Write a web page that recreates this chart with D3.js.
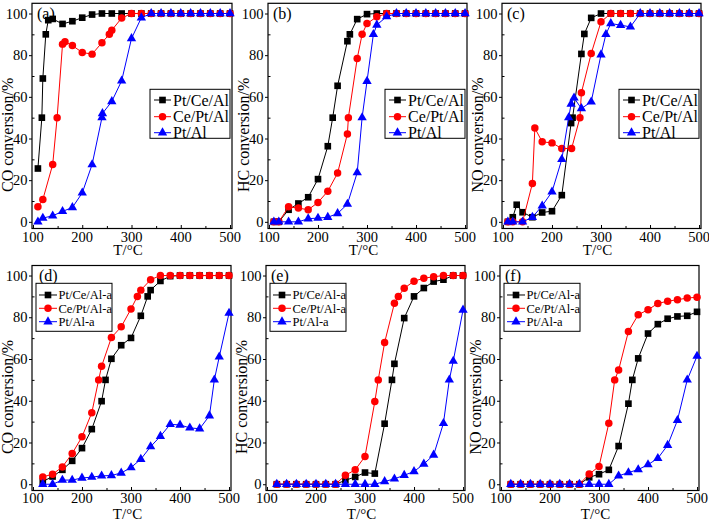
<!DOCTYPE html>
<html>
<head>
<meta charset="utf-8">
<script src="https://cdn.jsdelivr.net/npm/d3@7"></script>
<style>
body { margin: 0; background: #fff; }
svg { display: block; }
svg text { font-family: "Liberation Serif", "Times New Roman", serif; fill: #000; }
</style>
</head>
<body>
<svg id="chart" width="709" height="520"></svg>
<script>
// series names
var freshNames = ["Pt/Ce/Al", "Ce/Pt/Al", "Pt/Al"];
var agedNames = ["Pt/Ce/Al-a", "Ce/Pt/Al-a", "Pt/Al-a"];

var xTicks = [100, 200, 300, 400, 500];
var xMinor = [150, 250, 350, 450];
var yTicks = [0, 20, 40, 60, 80, 100];
var yMinor = [10, 30, 50, 70, 90];

// (a) CO, fresh  [T, conversion]
var coFreshPtCeAl = [[110,25.6],[118,50],[120,68.8],[126,90],[131,96.8],[140,97.4],[160,95],[180,96.3],[200,98],[220,99.5],[240,100],[260,100],[280,100],[300,100],[320,100],[340,100],[360,100],[380,100],[400,100],[420,100],[440,100],[460,100],[480,100],[500,100]];
var coFreshCePtAl = [[110,7.2],[120,10.7],[140,27.5],[149,50],[160,85.3],[165,86.4],[180,84.6],[200,81.3],[220,80.5],[240,86],[255,90],[260,92],[280,97.8],[300,100],[320,100],[340,100],[360,100],[380,100],[400,100],[420,100],[440,100],[460,100],[480,100],[500,100]];
var coFreshPtAl = [[110,0],[120,1.8],[140,2.9],[160,5],[180,6.9],[200,13.9],[220,27.5],[240,50],[241,52],[260,57.8],[280,67.7],[300,88],[320,98],[340,100],[360,100],[380,100],[400,100],[420,100],[440,100],[460,100],[480,100],[500,100]];

// (b) HC, fresh
var hcFreshPtCeAl = [[110,0],[120,0],[140,5.8],[160,8.8],[180,11.8],[200,20.5],[220,36.3],[230,50],[240,65.3],[260,86.7],[265,90],[280,97.3],[300,99.7],[320,100],[340,100],[360,100],[380,100],[400,100],[420,100],[440,100],[460,100],[480,100],[500,100]];
var hcFreshCePtAl = [[110,0],[120,0],[140,7.2],[160,6.6],[180,5.8],[200,9.3],[220,14.7],[240,23.4],[260,42.2],[262,50],[280,78.4],[290,90],[300,95.2],[320,98.4],[340,100],[360,100],[380,100],[400,100],[420,100],[440,100],[460,100],[480,100],[500,100]];
var hcFreshPtAl = [[110,0],[120,0],[140,0],[160,0],[180,1.5],[200,1.8],[220,2.2],[240,4],[260,8.5],[280,23.6],[290,50],[300,67.5],[313,90],[320,94.5],[340,98.5],[360,100],[380,100],[400,100],[420,100],[440,100],[460,100],[480,100],[500,100]];

// (c) NO, fresh
var noFreshPtCeAl = [[110,0],[120,2.2],[128,8.2],[140,4.6],[160,2.2],[180,4.5],[200,5.1],[220,12.8],[239,47.4],[242,50],[260,80.6],[266,90.2],[280,97.9],[300,100],[320,100],[340,100],[360,100],[380,100],[400,100],[420,100],[440,100],[460,100],[480,100],[500,100]];
var noFreshCePtAl = [[110,0],[120,0],[140,0],[160,18.4],[165,45],[180,38.4],[200,37.9],[220,35.2],[240,35.2],[257,50],[260,62],[280,80.8],[300,96],[320,100],[340,100],[360,100],[380,100],[400,100],[420,100],[440,100],[460,100],[480,100],[500,100]];
var noFreshPtAl = [[110,0],[120,0],[140,0],[160,2.2],[180,7.7],[200,14.4],[220,30],[234,50],[239,56.6],[245,59.5],[260,54.4],[280,57.6],[300,80.2],[310,90],[320,95.2],[340,94.4],[360,93.6],[380,100],[400,100],[420,100],[440,100],[460,100],[480,100],[500,100]];

// (d) CO, aged
var coAgedPtCeAl = [[120,1.3],[140,3.7],[160,6.9],[180,11.2],[200,17.3],[220,26.4],[240,39.8],[248,50],[260,60.1],[280,66.6],[300,70.1],[320,80.7],[334,90],[340,93],[360,97.4],[380,99.7],[400,100],[420,100],[440,100],[460,100],[480,100],[500,100]];
var coAgedCePtAl = [[120,3.5],[140,4.8],[160,8.3],[180,14.7],[200,22.7],[220,34.3],[234,50],[240,56.5],[260,70.3],[280,75.4],[300,84],[313,90],[320,93],[340,98],[360,100],[380,100],[400,100],[420,100],[440,100],[460,100],[480,100],[500,100]];
var coAgedPtAl = [[120,0],[140,0],[160,2],[180,2],[200,3],[220,3.4],[240,4],[260,4.2],[280,5.4],[300,8],[320,12],[340,18],[360,23],[380,28.7],[400,28.4],[420,27],[440,26.6],[460,32.8],[470,50],[480,61],[500,82]];

// (e) HC, aged
var hcAgedPtCeAl = [[120,0],[140,0],[160,0],[180,0],[200,0],[220,0],[240,0],[260,1.9],[280,3.5],[300,5.6],[320,5.1],[340,29],[355,50],[360,57.7],[380,79.6],[400,90],[420,94],[440,97.1],[460,98],[480,100],[500,100]];
var hcAgedCePtAl = [[120,0],[140,0],[160,0],[180,0],[200,0],[220,0],[240,0],[260,4.3],[280,6.9],[300,13.3],[320,39.6],[327,50],[340,67.9],[360,86.7],[368,90],[380,93.9],[400,97.3],[420,98.7],[440,99.4],[460,100],[480,100],[500,100]];
var hcAgedPtAl = [[120,0],[140,0],[160,0],[180,0],[200,0],[220,0],[240,0],[260,0],[280,0],[300,0],[320,0],[340,1.3],[360,2.6],[380,4.3],[400,6.1],[420,9.7],[440,14],[460,29.2],[472,50],[480,59],[500,83.5]];

// (f) NO, aged
var noAgedPtCeAl = [[120,0],[140,0],[160,0],[180,0],[200,0],[220,0],[240,0],[260,0],[280,3.3],[300,4.8],[320,6.9],[340,18.3],[360,38.6],[368,50],[380,60.3],[400,72.2],[420,76.7],[440,79.3],[460,80.4],[480,80.7],[500,82.6]];
var noAgedCePtAl = [[120,0],[140,0],[160,0],[180,0],[200,0],[220,0],[240,0],[260,0],[280,4.9],[300,8.5],[320,29.2],[332,50],[340,54.7],[360,73.2],[380,81.2],[400,83.6],[420,86.6],[440,87.7],[460,88.4],[480,89.2],[500,89.6]];
var noAgedPtAl = [[120,0],[140,0],[160,0],[180,0],[200,0],[220,0],[240,0],[260,0],[280,0],[300,0],[320,0],[340,4],[360,5.6],[380,7],[400,9.4],[420,12.4],[440,18.7],[460,30.6],[480,50],[500,61.4]];

var colors = ["#000000", "#ff0000", "#0000ff"];
var shapes = [d3.symbolSquare, d3.symbolCircle, d3.symbolTriangle];
var shapeSize = [44, 44, 38];

var topRow = { top: 3.3, bottom: 228.5, yDomain: [-3.2, 104.9], labelY: 241.5, xTitleY: 255, legend: "right" };
var bottomRow = { top: 265.5, bottom: 490.5, yDomain: [-3, 104.8], labelY: 503, xTitleY: 518.5, legend: "left" };

var panels = [
  { tag: "(a)", yTitle: "CO conversion/%", left: 32, width: 200, row: topRow, names: freshNames, series: [coFreshPtCeAl, coFreshCePtAl, coFreshPtAl] },
  { tag: "(b)", yTitle: "HC conversion/%", left: 268, width: 199, row: topRow, names: freshNames, series: [hcFreshPtCeAl, hcFreshCePtAl, hcFreshPtAl] },
  { tag: "(c)", yTitle: "NO conversion/%", left: 502, width: 199, row: topRow, names: freshNames, series: [noFreshPtCeAl, noFreshCePtAl, noFreshPtAl] },
  { tag: "(d)", yTitle: "CO conversion/%", left: 32, width: 199, row: bottomRow, names: agedNames, series: [coAgedPtCeAl, coAgedCePtAl, coAgedPtAl] },
  { tag: "(e)", yTitle: "HC conversion/%", left: 266, width: 199, row: bottomRow, names: agedNames, series: [hcAgedPtCeAl, hcAgedCePtAl, hcAgedPtAl] },
  { tag: "(f)", yTitle: "NO conversion/%", left: 500, width: 199, row: bottomRow, names: agedNames, series: [noAgedPtCeAl, noAgedCePtAl, noAgedPtAl] }
];

var svg = d3.select("#chart");

var drawPanel = function (p) {
  var top = p.row.top, bottom = p.row.bottom;
  var right = p.left + p.width;
  var xScale = d3.scaleLinear().domain([98, 504]).range([p.left, right]);
  var yScale = d3.scaleLinear().domain(p.row.yDomain).range([bottom, top]);
  var g = svg.append("g");

  // x ticks point inward, y major ticks outward
  var xAxis = g.append("g").attr("transform", "translate(0," + bottom + ")")
    .call(d3.axisBottom(xScale).tickValues(xTicks).tickSizeInner(-3.5).tickSizeOuter(0).tickFormat(""));
  var xAxisMinor = g.append("g").attr("transform", "translate(0," + bottom + ")")
    .call(d3.axisBottom(xScale).tickValues(xMinor).tickSizeInner(-2.5).tickSizeOuter(0).tickFormat(""));
  var yAxis = g.append("g").attr("transform", "translate(" + p.left + ",0)")
    .call(d3.axisLeft(yScale).tickValues(yTicks).tickSizeInner(3).tickSizeOuter(0).tickPadding(1.5));
  var yAxisMinor = g.append("g").attr("transform", "translate(" + p.left + ",0)")
    .call(d3.axisLeft(yScale).tickValues(yMinor).tickSizeInner(-2.5).tickSizeOuter(0).tickFormat(""));
  [xAxis, xAxisMinor, yAxis, yAxisMinor].forEach(function (a) {
    a.attr("font-family", null);
    a.select(".domain").remove();
    a.selectAll("line").attr("stroke", "#000").attr("stroke-width", 1);
    a.selectAll("text").attr("font-size", 14.5);
  });

  // x tick labels
  g.selectAll(".xlab")
    .data(xTicks)
    .enter()
    .append("text")
    .attr("class", "xlab")
    .attr("x", function (d) { return xScale(d); })
    .attr("y", p.row.labelY)
    .attr("text-anchor", "middle")
    .attr("font-size", 14.5)
    .text(function (d) { return d; });

  // frame
  g.append("rect")
    .attr("x", p.left).attr("y", top)
    .attr("width", p.width).attr("height", bottom - top)
    .attr("fill", "none").attr("stroke", "#000").attr("stroke-width", 1.2);

  // titles
  g.append("text")
    .attr("x", (p.left + right) / 2 - 4).attr("y", p.row.xTitleY)
    .attr("text-anchor", "middle").attr("font-size", 15)
    .text("T/\u00b0C");
  g.append("text")
    .attr("transform", "translate(" + (p.left - 19) + "," + ((top + bottom) / 2 + 19) + ") rotate(-90)")
    .attr("text-anchor", "middle").attr("font-size", 16)
    .text(p.yTitle);
  g.append("text")
    .attr("x", p.left + (p.tag === "(d)" ? 7 : 5)).attr("y", top + 15.5)
    .attr("font-size", 16)
    .text(p.tag);

  // series
  var line = d3.line()
    .x(function (d) { return xScale(d[0]); })
    .y(function (d) { return yScale(d[1]); });

  p.series.forEach(function (data, i) {
    g.append("path")
      .datum(data)
      .attr("d", line)
      .attr("fill", "none")
      .attr("stroke", colors[i])
      .attr("stroke-width", 1);
    g.selectAll(".pt" + i)
      .data(data)
      .enter()
      .append("path")
      .attr("class", "pt" + i)
      .attr("transform", function (d) {
        return "translate(" + xScale(d[0]) + "," + yScale(d[1]) + ")";
      })
      .attr("d", d3.symbol().type(shapes[i]).size(shapeSize[i]))
      .attr("fill", colors[i]);
  });

  // legend
  var lg;
  if (p.row.legend === "right") {
    lg = { x: right - 82, y: 89.3, w: 80, h: 49, rows: [10.7, 27.4, 43.4], x1: 4, x2: 21, tx: 23, fs: 16 };
  } else {
    lg = { x: p.left + 4, y: 283.3, w: 76, h: 48, rows: [11.7, 25, 38.4], x1: 3, x2: 21, tx: 22.5, fs: 12.5 };
  }
  var leg = g.append("g").attr("transform", "translate(" + lg.x + "," + lg.y + ")");
  leg.append("rect")
    .attr("width", lg.w).attr("height", lg.h)
    .attr("fill", "#fff").attr("stroke", "#000").attr("stroke-width", 1);
  p.names.forEach(function (name, i) {
    var ry = lg.rows[i];
    leg.append("line")
      .attr("x1", lg.x1).attr("x2", lg.x2).attr("y1", ry).attr("y2", ry)
      .attr("stroke", colors[i]).attr("stroke-width", 1);
    leg.append("path")
      .attr("transform", "translate(" + (lg.x1 + lg.x2) / 2 + "," + ry + ")")
      .attr("d", d3.symbol().type(shapes[i]).size(shapeSize[i]))
      .attr("fill", colors[i]);
    leg.append("text")
      .attr("x", lg.tx).attr("y", ry)
      .attr("dy", "0.35em")
      .attr("font-size", lg.fs)
      .text(name);
  });
};

panels.forEach(drawPanel);
</script>
</body>
</html>
